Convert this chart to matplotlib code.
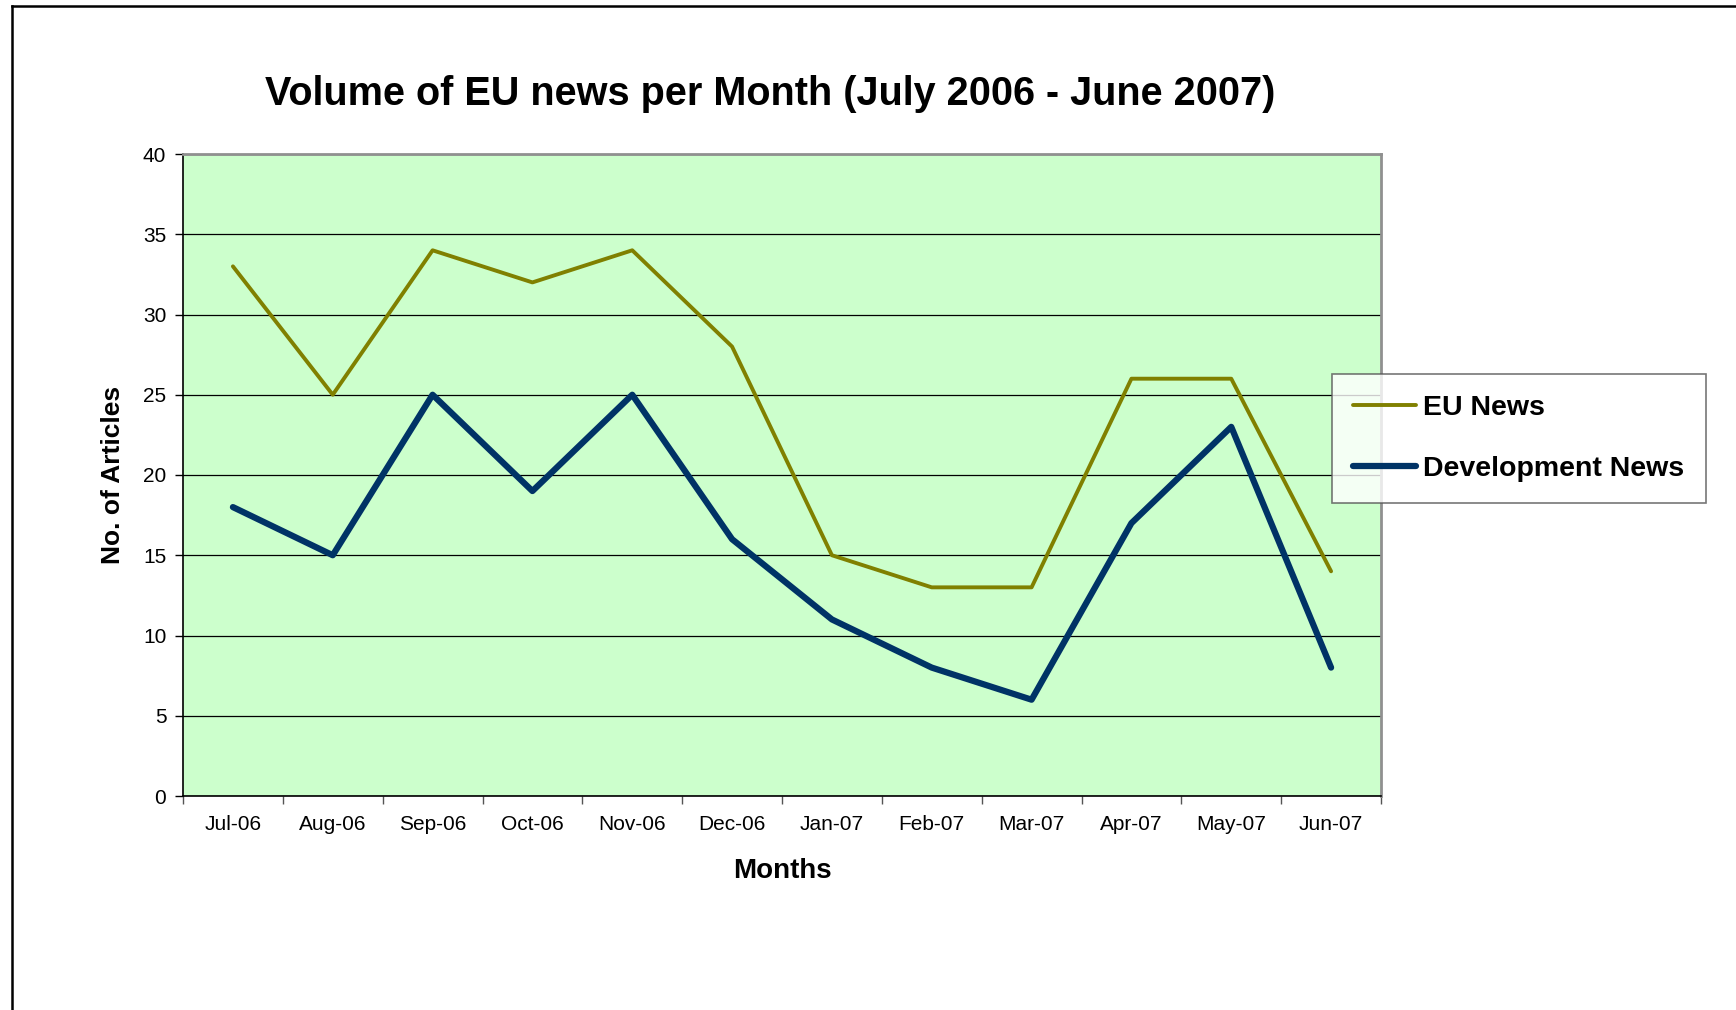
import matplotlib
matplotlib.use("Agg")
import matplotlib.pyplot as plt
from matplotlib.lines import Line2D
import numpy as np

months = ["Jul-06", "Aug-06", "Sep-06", "Oct-06", "Nov-06", "Dec-06",
          "Jan-07", "Feb-07", "Mar-07", "Apr-07", "May-07", "Jun-07"]
eu_news = [33, 25, 34, 32, 34, 28, 15, 13, 13, 26, 26, 14]
dev_news = [18, 15, 25, 19, 25, 16, 11, 8, 6, 17, 23, 8]
y_ticks = [0, 5, 10, 15, 20, 25, 30, 35, 40]

plt.rcParams['font.family'] = ['Liberation Sans', 'DejaVu Sans']

W, H = 1736, 1010
fig = plt.figure(figsize=(W / 100, H / 100), dpi=100)
ax = fig.add_axes([183 / W, 1 - 796 / H, (1381 - 183) / W, (796 - 154) / H])
ax.set_facecolor("#CCFFCC")

x = np.arange(len(months))
ax.plot(x, eu_news, color="#808000", lw=2.8, label="EU News", zorder=3,
        solid_joinstyle="round", solid_capstyle="round")
ax.plot(x, dev_news, color="#003366", lw=4.5, label="Development News", zorder=3,
        solid_joinstyle="round", solid_capstyle="round")

ax.set_xlim(-0.5, len(months) - 0.5)
ax.set_ylim(0, 40)
ax.set_yticks(y_ticks)
ax.set_yticklabels([str(v) for v in y_ticks], fontsize=15)
ax.yaxis.grid(True, color="black", lw=0.9)
ax.set_axisbelow(True)

ax.set_xticks(x)
ax.set_xticklabels(months, fontsize=15)
ax.set_xticks(np.arange(-0.5, len(months), 1.0), minor=True)
ax.tick_params(axis="x", which="major", length=0, pad=14)
ax.tick_params(axis="x", which="minor", length=6, width=1, color="#555555")
ax.tick_params(axis="y", length=6, width=1, pad=6)

for side in ["left", "bottom"]:
    ax.spines[side].set_color("black")
    ax.spines[side].set_linewidth(1.2)
for side in ["top", "right"]:
    ax.spines[side].set_color("#909090")
    ax.spines[side].set_linewidth(2)

ax.set_xlabel("Months", fontsize=20, fontweight="bold", labelpad=17)
ax.set_ylabel("No. of Articles", fontsize=19, fontweight="bold", labelpad=13)

fig.text(770 / W, 1 - 94 / H, "Volume of EU news per Month (July 2006 - June 2007)",
         ha="center", va="center", fontsize=28.5, fontweight="bold")

leg = fig.legend(loc="upper left", bbox_to_anchor=(1332 / W, 1 - 374 / H),
                 bbox_transform=fig.transFigure, frameon=True, fancybox=False,
                 prop={"size": 20.5, "weight": "bold"}, borderpad=0.75,
                 labelspacing=1.2, handlelength=2.2, handletextpad=0.25,
                 borderaxespad=0)
leg.get_frame().set_edgecolor("#555555")
leg.get_frame().set_linewidth(1.2)

# figure border (left and top edges visible)
fig.add_artist(Line2D([12 / W, 12 / W], [0, 1 - 6 / H], transform=fig.transFigure,
                      color="black", lw=1.8))
fig.add_artist(Line2D([12 / W, 1], [1 - 6 / H, 1 - 6 / H], transform=fig.transFigure,
                      color="black", lw=1.8))

fig.savefig("out.png", dpi=100, facecolor="white")
